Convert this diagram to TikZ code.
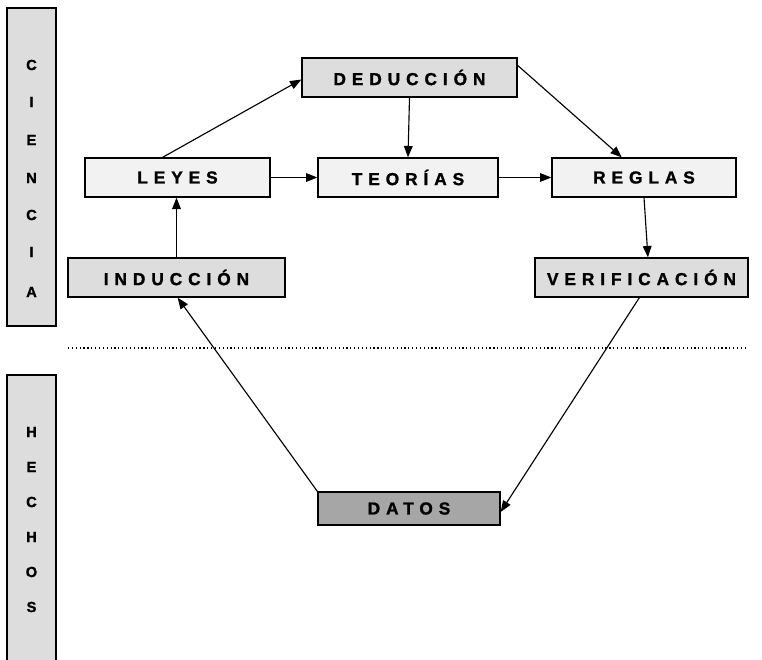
\documentclass[tikz,border=0pt]{standalone}
\usepackage{fontspec}
\setmainfont{Liberation Sans}
\usetikzlibrary{arrows.meta,calc}
\newfontfamily\spacedfont[LetterSpace=34,FakeBold=1.3]{Liberation Sans Bold}
\newfontfamily\barfont[FakeBold=1.2]{Liberation Sans Bold}
\definecolor{boxlight}{HTML}{F2F2F2}
\definecolor{boxmid}{HTML}{DDDDDD}
\definecolor{boxdark}{HTML}{A6A6A6}
\newcommand{\sptext}[1]{{\spacedfont #1}}
\begin{document}
\begin{tikzpicture}[x=0.75pt,y=-0.75pt,
  conceptbox/.style={draw=black,line width=1pt,rectangle,inner sep=0pt,minimum height={39*0.75pt},font=\fontsize{13}{15}\selectfont},
  lightbox/.style={conceptbox,fill=boxlight},
  midbox/.style={conceptbox,fill=boxmid},
  sidebar/.style={draw=black,line width=1pt,fill=boxmid},
  conn/.style={line width=0.85pt,-{Triangle[length=8.5pt,width=6.5pt]}},
  barletter/.style={font=\fontsize{11}{12}\barfont}
]
\useasboundingbox (0,0) rectangle (762,659);
% side bars
\draw[sidebar] (7,8) rectangle (56,326);
\draw[sidebar] (7,375) rectangle (56,680);
\foreach \l/\y [count=\i] in {C/65,I/102,E/140,N/178,C/215,I/252,A/292}
  \node[barletter] (cien\i) at (31.5,\y) {\l};
\foreach \l/\y [count=\i] in {H/432,E/467,C/502,H/537,O/572,S/607}
  \node[barletter] (hech\i) at (31.5,\y) {\l};
% boxes
\node[midbox,minimum width={215*0.75pt}] (ded) at (409.5,77.5) {\sptext{DEDUCCIÓN}};
\node[lightbox,minimum width={185*0.75pt}] (ley) at (177.5,177.5) {\sptext{LEYES}};
\node[lightbox,minimum width={180*0.75pt}] (teo) at (408,177.5) {\sptext{TEORÍAS}};
\node[lightbox,minimum width={184*0.75pt}] (reg) at (644,177.5) {\sptext{REGLAS}};
\node[midbox,minimum width={217*0.75pt}] (ind) at (176.5,277.5) {\sptext{INDUCCIÓN}};
\node[midbox,minimum width={213*0.75pt}] (ver) at (641.5,277.5) {\sptext{VERIFICACIÓN}};
\node[conceptbox,fill=boxdark,minimum width={182*0.75pt},minimum height={33*0.75pt}] (dat) at (409,508.5) {\sptext{DATOS}};
% dotted separator
\coordinate (sepL) at (68,348);
\coordinate (sepR) at (748,348);
\draw[line width=0.9pt,dotted] (sepL) -- (sepR);
% connectors
\draw[conn] ($(ley.north west)!0.42!(ley.north east)$) -- ($(ded.north west)!0.55!(ded.south west)$);
\draw[conn] (ded.south) -- (teo.north);
\draw[conn] ($(ded.north east)!0.2!(ded.south east)$) -- ($(reg.north west)!0.38!(reg.north east)$);
\draw[conn] (ley.east) -- (teo.west);
\draw[conn] (teo.east) -- (reg.west);
\draw[conn] (ind.north) -- (ind.north |- ley.south);
\draw[conn] ($(reg.south west)!0.5!(reg.south east)$) -- ($(ver.north west)!0.53!(ver.north east)$);
\draw[conn] ($(ver.south west)!0.49!(ver.south east)$) -- ($(dat.north east)!0.6!(dat.south east)$);
\draw[conn] (dat.north west) -- ($(ind.south west)!0.505!(ind.south east)$);
\end{tikzpicture}
\end{document}
